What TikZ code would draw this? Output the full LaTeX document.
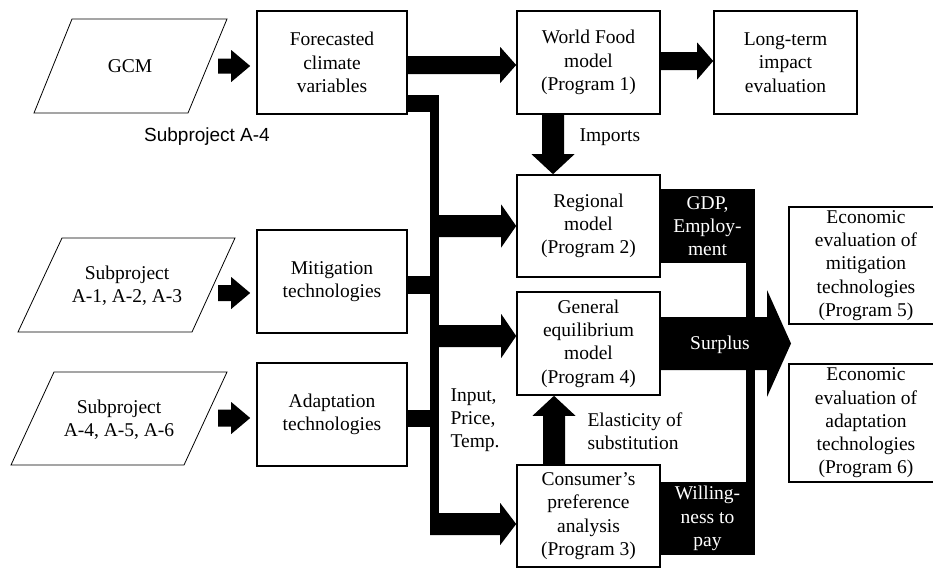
\documentclass[tikz,border=0pt]{standalone}
\usepackage{fontspec}
\setmainfont{Liberation Serif}
\newfontfamily\labsans{Liberation Sans}
\usetikzlibrary{calc}
% horizontal block arrow: #1 from, #2 to (tip), #3 y centre (px), #4 shaft half width, #5 head half width, #6 head length
\newcommand\HArrow[6]{\fill let \p1=#1, \p2=#2 in
  (\x1,-#3pt+#4pt) -- (\x2-#6pt,-#3pt+#4pt) -- (\x2-#6pt,-#3pt+#5pt) -- (\x2,-#3pt)
  -- (\x2-#6pt,-#3pt-#5pt) -- (\x2-#6pt,-#3pt-#4pt) -- (\x1,-#3pt-#4pt) -- cycle;}
% vertical block arrow: #3 x centre (px)
\newcommand\VArrow[6]{\fill let \p1=#1, \p2=#2, \n1={sign(\y2-\y1)} in
  (#3pt-#4pt,\y1) -- (#3pt-#4pt,\y2-\n1*#6pt) -- (#3pt-#5pt,\y2-\n1*#6pt) -- (#3pt,\y2)
  -- (#3pt+#5pt,\y2-\n1*#6pt) -- (#3pt+#4pt,\y2-\n1*#6pt) -- (#3pt+#4pt,\y1) -- cycle;}
\begin{document}
\begin{tikzpicture}[x=1pt,y=-1pt,
  font=\fontsize{19.5}{23.3}\selectfont,
  box/.style={draw,line width=1.6pt,inner sep=0pt,align=center,minimum height=103pt},
  lbox/.style={box,minimum width=150pt},
  mbox/.style={box,minimum width=143pt},
  blackbox/.style={fill=black,text=white,inner sep=0pt,align=center,minimum width=95pt},
  para/.style={line width=0.8pt}]
\clip (0,0) rectangle (933,568);
\fill[white] (0,0) rectangle (933,568);

% input parallelograms
\node (gcm) at (130,66) {GCM};
\draw[para] (72,19) -- (227,19) -- (188,113) -- (34,113) -- cycle;
\node[align=center] (s1) at (127,286) {Subproject\\A-1, A-2, A-3};
\draw[para] (62,238) -- (235,238) -- (192,332) -- (18,332) -- cycle;
\node[align=center] (s2) at (119,420) {Subproject\\A-4, A-5, A-6};
\draw[para] (54,372) -- (227,372) -- (184,465) -- (11,465) -- cycle;
\node[font=\labsans\fontsize{19}{22}\selectfont] (sa4) at (207,137) {Subproject A-4};

% boxes
\node[lbox] (fc) at (332,62.5) {Forecasted\\climate\\variables};
\node[lbox] (mit) at (332,281.5) {Mitigation\\technologies};
\node[lbox] (ada) at (332,414.5) {Adaptation\\technologies};
\node[mbox] (wf) at (588.5,62.5) {World Food\\model\\(Program 1)};
\node[mbox] (lt) at (785.5,62.5) {Long-term\\impact\\evaluation};
\node[mbox,minimum height=102pt] (reg) at (588.5,226) {Regional\\model\\(Program 2)};
\node[mbox] (ge) at (588.5,343.5) {General\\equilibrium\\model\\(Program 4)};
\node[mbox,minimum height=102pt] (con) at (588.5,516) {Consumer’s\\preference\\analysis\\(Program 3)};
\node[box,minimum width=154pt,minimum height=117pt] (ec1) at (866,265.5) {Economic\\evaluation of\\mitigation\\technologies\\(Program 5)};
\node[box,minimum width=154pt,minimum height=118pt] (ec2) at (866,423) {Economic\\evaluation of\\adaptation\\technologies\\(Program 6)};

% black output boxes and bar
\node[blackbox,minimum height=74pt] (gdp) at (707.5,226) {GDP,\\Employ-\\ment};
\node[blackbox,minimum height=73pt] (wil) at (707.5,518.5) {Willing-\\ness to\\pay};
\fill ($(gdp.south east)+(-9,0)$) rectangle (wil.north east);
\coordinate (stip) at (791,343.5);
\HArrow{(ge.east)}{(stip)}{343.5}{26.5}{53.5}{24}
\node[text=white] (sur) at (720,345) {Surplus};

% small arrows from inputs
\HArrow{(218,66)}{($(fc.west)+(-6,0)$)}{66}{7.5}{16}{19}
\HArrow{(218,293)}{($(mit.west)+(-6,0)$)}{293}{8}{16}{19}
\HArrow{(218,418)}{($(ada.west)+(-6,0)$)}{418}{8.5}{16}{19}

% top arrows
\HArrow{(fc.east)}{(wf.west)}{65}{9}{18}{16}
\HArrow{(wf.east)}{(lt.west)}{61}{9}{18.5}{16}
\VArrow{(wf.south)}{(reg.north)}{553}{11}{21.5}{20}
\node[anchor=west] (imp) at (576,137) {Imports};
\VArrow{(con.north)}{(ge.south)}{554}{11}{21.5}{20}
\node[anchor=west,align=left] (ela) at (584,431) {Elasticity of\\substitution};

% trunk bus
\coordinate (busT) at (430,95);
\coordinate (busB) at (439,535);
\fill (fc.east |- busT) rectangle (439,112);
\fill (busT) rectangle (busB);
\fill (407,276) rectangle (430,294);
\fill (407,410) rectangle (430,427);
\HArrow{(439,226)}{(reg.west)}{226}{11}{21.5}{15}
\HArrow{(439,336)}{(ge.west)}{336}{11}{22}{15}
\HArrow{(430,524)}{(con.west)}{524}{11}{21}{16}
\node[anchor=west,align=left] (ipt) at (447,420) {Input,\\Price,\\Temp.};
\end{tikzpicture}
\end{document}
